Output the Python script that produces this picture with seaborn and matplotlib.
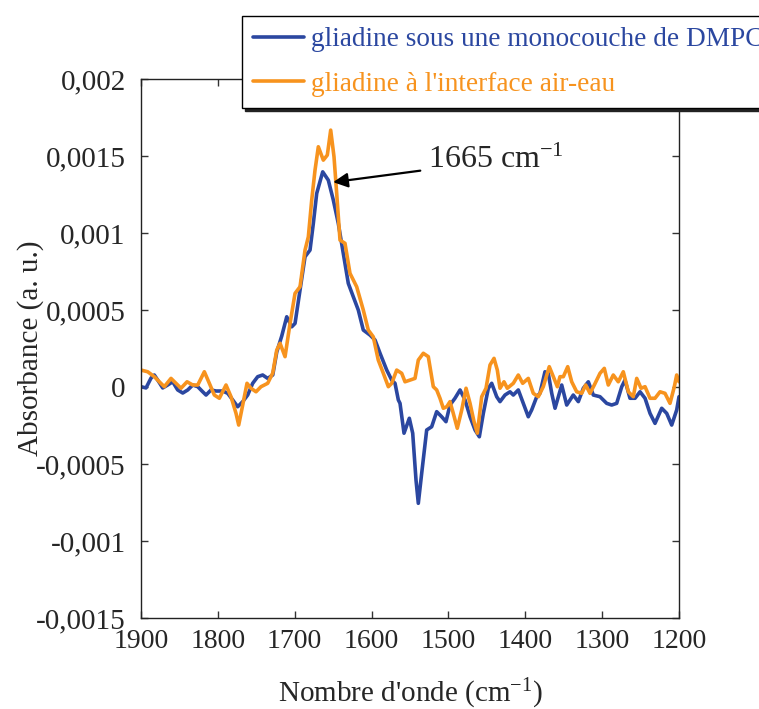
import numpy as np
import pandas as pd
import matplotlib
matplotlib.use("Agg")
import matplotlib.pyplot as plt
import seaborn as sns

OUT_PATH = "out.png"

BLUE = "#2B47A0"
ORANGE = "#F7931E"
LABEL_DMPC = "gliadine sous une monocouche de DMPC"
LABEL_AIR = "gliadine à l'interface air-eau"

# wavenumber (cm-1) and absorbance (x 1e-4)
wn_dmpc = [1900, 1893.5, 1887, 1882.7, 1878.3, 1871.8, 1865.3, 1858.8, 1852.3, 1845.7,
           1839.2, 1832.7, 1826.2, 1819.7, 1815.4, 1808.9, 1802.4, 1793.7, 1787.2, 1780.7,
           1774.2, 1767.7, 1761.2, 1754.7, 1748.2, 1741.7, 1735.2, 1728.6, 1723.4, 1716.9,
           1710.4, 1703.9, 1699.6, 1693.1, 1686.6, 1680.1, 1675.8, 1671.4, 1663.6, 1656.3,
           1649.8, 1643.3, 1636.8, 1630.3, 1623.8, 1617.3, 1610.8, 1602.0, 1595.5, 1589.0,
           1580.3, 1573.8, 1569.5, 1565.2, 1563.0, 1557.8, 1550.9, 1546.5, 1542.2, 1539.2,
           1534.8, 1528.3, 1521.8, 1515.3, 1508.8, 1503.2, 1498.0, 1491.5, 1484.9, 1478.4,
           1471.9, 1465.4, 1459.8, 1454.6, 1448.1, 1443.7, 1437.2, 1432.9, 1426.4, 1419.9,
           1415.6, 1409.1, 1402.6, 1396.1, 1391.7, 1385.1, 1380.9, 1374.4, 1370.1, 1365.6,
           1361.3, 1352.6, 1346.1, 1337.6, 1331.0, 1324.5, 1318.0, 1311.5, 1302.8, 1294.1,
           1287.6, 1281.1, 1274.5, 1270.3, 1263.8, 1257.2, 1250.7, 1244.2, 1237.7, 1231.2,
           1222.5, 1216.0, 1209.5, 1203.0, 1200.0]
abs_dmpc = [0.02, -0.06, 0.58, 0.78, 0.45, -0.06, 0.13, 0.34, -0.19, -0.39,
            -0.19, 0.13, 0.02, -0.31, -0.52, -0.19, -0.26, -0.26, -0.41, -0.84,
            -1.28, -0.95, -0.52, 0.24, 0.67, 0.78, 0.56, 0.78, 2.27, 3.31,
            4.56, 3.91, 4.13, 6.30, 8.46, 8.89, 10.62, 12.57, 13.97, 13.43,
            12.14, 10.62, 8.67, 6.73, 5.86, 5.00, 3.70, 3.37, 3.05, 2.19,
            1.10, 0.45, 0.24, -0.84, -1.06, -3.00, -2.03, -3.00, -6.04, -7.55,
            -5.60, -2.79, -2.58, -1.60, -1.93, -2.25, -1.17, -0.73, -0.19, -0.84,
            -1.93, -2.79, -3.23, -1.71, -0.08, 0.24, -0.63, -0.95, -0.52, -0.31,
            -0.52, -0.19, -1.06, -1.93, -1.49, -0.63, -0.41, 0.99, 0.89, -0.41,
            -1.38, 0.13, -1.17, -0.52, -0.95, -0.08, 0.34, -0.52, -0.63, -1.06,
            -1.17, -1.06, 0.02, 0.45, -0.73, -0.73, -0.31, -0.73, -1.71, -2.36,
            -1.38, -1.71, -2.47, -1.49, -0.63]

wn_air = [1900, 1891.3, 1882.7, 1876.2, 1869.7, 1861.0, 1854.5, 1848.0, 1840.1, 1832.7,
          1826.2, 1817.6, 1811.1, 1804.6, 1798.1, 1789.4, 1782.9, 1776.4, 1772.9, 1767.7,
          1762.1, 1756.9, 1750.4, 1743.9, 1735.2, 1728.6, 1723.4, 1719.1, 1712.6, 1706.1,
          1699.6, 1693.1, 1686.6, 1682.3, 1677.9, 1673.6, 1669.3, 1662.8, 1657.6, 1653.2,
          1648.9, 1645.4, 1641.1, 1634.6, 1628.1, 1619.4, 1610.8, 1604.3, 1597.8, 1591.3,
          1584.7, 1578.2, 1573.8, 1567.3, 1560.8, 1556.5, 1550.0, 1543.5, 1539.2, 1532.7,
          1526.2, 1519.7, 1515.3, 1511.0, 1506.7, 1502.2, 1498.0, 1493.7, 1488.5, 1482.7,
          1477.1, 1471.9, 1466.7, 1462.4, 1456.7, 1451.1, 1445.9, 1440.7, 1436.4, 1432.9,
          1427.7, 1423.4, 1415.6, 1409.1, 1403.4, 1396.1, 1389.6, 1383.1, 1376.6, 1368.8,
          1363.5, 1358.3, 1354.9, 1350.5, 1344.8, 1339.6, 1333.1, 1326.6, 1321.4, 1315.8,
          1310.2, 1302.8, 1297.2, 1292.0, 1285.5, 1279.0, 1272.5, 1265.9, 1259.5, 1255.0,
          1249.4, 1244.2, 1237.7, 1231.2, 1224.7, 1218.2, 1211.7, 1206.1, 1203.0, 1200.0]
abs_air = [1.10, 0.99, 0.67, 0.34, 0.02, 0.56, 0.24, -0.08, 0.34, 0.13,
           0.13, 0.99, 0.24, -0.52, -0.73, 0.13, -0.63, -1.71, -2.47, -1.17,
           0.24, -0.08, -0.31, 0.02, 0.24, 0.91, 2.40, 2.84, 1.97, 4.13,
           6.08, 6.51, 8.89, 9.75, 12.14, 14.08, 15.60, 14.73, 15.06, 16.68,
           14.95, 12.57, 9.54, 9.33, 7.38, 6.51, 5.00, 3.70, 3.26, 1.75,
           0.89, 0.02, 0.24, 1.10, 0.89, 0.34, 0.45, 0.56, 1.75, 2.19,
           1.97, 0.02, -0.19, -0.73, -1.38, -1.28, -0.95, -1.71, -2.68, -1.49,
           -0.08, -1.06, -2.25, -3.00, -0.63, -0.08, 1.43, 1.86, 1.10, -0.08,
           0.34, -0.08, 0.24, 0.78, 0.24, 0.56, -0.41, -0.63, 0.02, 1.32,
           0.67, 0.02, 0.67, 0.67, 1.32, 0.34, -0.31, -0.41, 0.13, -0.41,
           0.13, 0.89, 1.21, 0.13, 0.78, 0.34, 0.99, -0.31, -0.63, 0.56,
           -0.08, 0.02, -0.73, -0.73, -0.31, -0.41, -1.06, 0.02, 0.78, 0.34]

ytick_vals = [0.002, 0.0015, 0.001, 0.0005, 0, -0.0005, -0.001, -0.0015]
ytick_labels = ["0,002", "0,0015", "0,001", "0,0005", "0", "-0,0005", "-0,001", "-0,0015"]
xtick_vals = [1900, 1800, 1700, 1600, 1500, 1400, 1300, 1200]

df = pd.concat([
    pd.DataFrame({"wn": wn_dmpc, "absorb": np.array(abs_dmpc) * 1e-4, "sample": LABEL_DMPC}),
    pd.DataFrame({"wn": wn_air, "absorb": np.array(abs_air) * 1e-4, "sample": LABEL_AIR}),
])

sns.set_style("ticks")
plt.rcParams["font.family"] = ["Liberation Serif", "DejaVu Serif"]
plt.rcParams["mathtext.fontset"] = "custom"
plt.rcParams["mathtext.rm"] = "Liberation Serif"
plt.rcParams["mathtext.it"] = "Liberation Serif:italic"

fig = plt.figure(figsize=(7.59, 7.09), dpi=100)
ax = fig.add_axes([0.1858, 0.1283, 0.7088, 0.7603])

sns.lineplot(data=df, x="wn", y="absorb", hue="sample", hue_order=[LABEL_DMPC, LABEL_AIR],
             palette=[BLUE, ORANGE], sort=False, estimator=None, lw=2.6, ax=ax, legend=False,
             solid_joinstyle="round", solid_capstyle="round")

ax.set_xlim(1900, 1200)
ax.set_ylim(-0.0015, 0.002)
ax.set_xticks(xtick_vals)
ax.set_xticklabels([str(v) for v in xtick_vals])
ax.set_yticks(ytick_vals)
ax.set_yticklabels(ytick_labels)
ax.tick_params(direction="in", length=5, width=1, top=True, right=True, color="#333333")
ax.tick_params(axis="x", labelsize=20, pad=8)
ax.tick_params(axis="y", labelsize=21, pad=11)
for s in ax.spines.values():
    s.set_color("#222222")
    s.set_linewidth(1.0)

ax.set_xlabel("Nombre d'onde (cm$^{-1}$)", fontsize=21, labelpad=16)
ax.set_ylabel("Absorbance (a. u.)", fontsize=21)
ax.yaxis.set_label_coords(-0.18, 0.5)

ax.annotate("1665 cm$^{-1}$", xy=(1650, 0.00133), xytext=(1527, 0.00142),
            fontsize=23, va="baseline", ha="left",
            arrowprops=dict(arrowstyle="-|>", color="black", lw=1.6,
                            mutation_scale=22, shrinkA=3, shrinkB=0))

handles = [plt.Line2D([], [], color=BLUE, lw=2.6), plt.Line2D([], [], color=ORANGE, lw=2.6)]
leg = fig.legend(handles, [LABEL_DMPC, LABEL_AIR], loc="upper left",
                 bbox_to_anchor=(242 / 759, 1 - 16 / 709), fontsize=19.6,
                 frameon=True, fancybox=False,
                 shadow={"color": "#222222", "alpha": 1.0, "ox": 2, "oy": -2},
                 edgecolor="black", framealpha=1, borderaxespad=0,
                 handlelength=1.85, handletextpad=0.25, labelspacing=0.7, borderpad=0.42)
leg.get_frame().set_linewidth(1.0)
for txt, c in zip(leg.get_texts(), [BLUE, ORANGE]):
    txt.set_color(c)

fig.savefig(OUT_PATH, dpi=100)
plt.close(fig)
